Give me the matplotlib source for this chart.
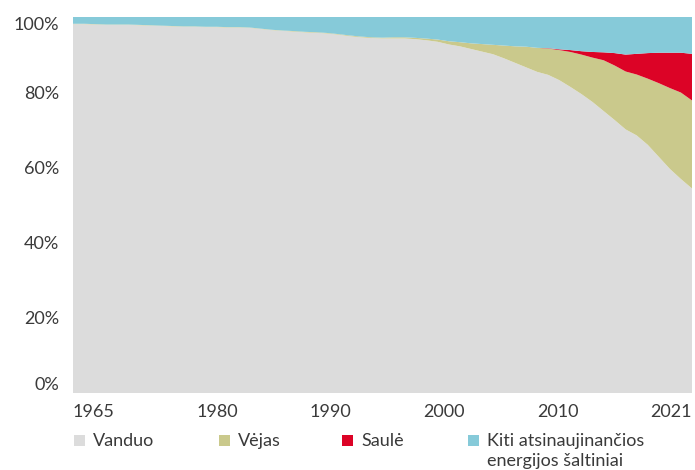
import matplotlib.pyplot as plt
from matplotlib.patches import Rectangle

plt.rcParams["font.family"] = ["Lato", "DejaVu Sans"]

years = list(range(1965, 2022))

# share of renewable electricity, %
hydro = [98.1, 98.1, 98.0, 97.9, 97.9, 97.9, 97.8, 97.7, 97.6, 97.5,
         97.4, 97.4, 97.3, 97.3, 97.2, 97.2, 97.1, 96.8, 96.5, 96.3,
         96.1, 95.9, 95.8, 95.6, 95.3, 94.9, 94.6, 94.4, 94.3, 94.3,
         94.3, 94.1, 93.8, 93.4, 92.7, 92.2, 91.5, 90.8, 90.1, 89.0,
         87.8, 86.6, 85.4, 84.6, 83.2, 81.4, 79.5, 77.4, 75.0, 72.6,
         70.1, 68.5, 66.0, 62.8, 59.6, 56.9, 54.4]
wind = [0.1] * 20 + [0.15] * 5 + [0.2, 0.2, 0.2, 0.2, 0.3,
        0.3, 0.35, 0.45, 0.6, 0.85, 1.1, 1.5, 2.0, 2.5, 3.4,
        4.4, 5.5, 6.4, 7.0, 8.0, 9.3, 10.5, 11.8, 13.5, 14.5,
        15.4, 16.2, 17.6, 19.6, 21.5, 23.0, 23.4]
solar = [0.0] * 43 + [0.1, 0.2, 0.5, 0.9, 1.5, 2.1, 3.3,
                      4.5, 5.5, 6.8, 8.1, 9.4, 10.6, 12.4]
other = [1.8, 1.8, 1.9, 2.0, 2.0, 2.0, 2.1, 2.2, 2.3, 2.4,
         2.5, 2.5, 2.6, 2.6, 2.7, 2.7, 2.8, 3.1, 3.4, 3.6,
         3.75, 3.95, 4.05, 4.25, 4.55, 4.9, 5.2, 5.4, 5.5, 5.4,
         5.4, 5.55, 5.75, 6.0, 6.45, 6.7, 7.0, 7.2, 7.4, 7.6,
         7.8, 7.9, 8.2, 8.3, 8.6, 8.8, 9.1, 9.3, 9.4, 9.6,
         10.0, 9.8, 9.6, 9.5, 9.5, 9.5, 9.8]

labels = ["Vanduo", "Vėjas", "Saulė", "Kiti atsinaujinančios"]
colors = ["#dcdcdc", "#cac98c", "#dc0326", "#86cad9"]

# tick positions as drawn in the original (end labels sit on the edges)
xtick_pos = [1965, 1978.07, 1988.3, 1998.56, 2008.83, 2021]
xtick_lab = ["1965", "1980", "1990", "2000", "2010", "2021"]
ytick_pos = [0, 20, 40, 60, 80, 100]

W, H = 695, 470
fig = plt.figure(figsize=(W / 100, H / 100), dpi=100)
ax = fig.add_axes([73 / W, (H - 393) / H, (692 - 73) / W, (393 - 17) / H])

ax.stackplot(years, hydro, wind, solar, other, colors=colors, linewidth=0)
ax.set_xlim(1965, 2021)
ax.set_ylim(0, 100)

txt = "#3a3a3a"
ax.set_xticks(xtick_pos)
ax.set_xticklabels(xtick_lab)
ax.set_yticks(ytick_pos)
ax.set_yticklabels([f"{v}%" for v in ytick_pos])
ax.tick_params(length=0, labelsize=13, colors=txt)
ax.tick_params(axis="x", pad=8)
ax.tick_params(axis="y", pad=10)
xl = ax.get_xticklabels()
xl[0].set_ha("left")
xl[-1].set_ha("right")
yl = ax.get_yticklabels()
yl[0].set_va("bottom")
yl[-1].set_va("top")
for s in ax.spines.values():
    s.set_visible(False)

# legend, laid out by hand like the original
leg_x = [74, 219, 342, 468]
base = 446
for x, c, lab in zip(leg_x, colors, labels):
    fig.patches.append(Rectangle((x / W, (H - base) / H), 11 / W, 11 / H,
                                 transform=fig.transFigure, color=c,
                                 linewidth=0))
    fig.text((x + 19) / W, (H - base) / H, lab, fontsize=13, color=txt,
             va="baseline", ha="left")
fig.text((leg_x[3] + 19) / W, (H - base - 20) / H, "energijos šaltiniai",
         fontsize=13, color=txt, va="baseline", ha="left")

fig.savefig("out.png", dpi=100)
